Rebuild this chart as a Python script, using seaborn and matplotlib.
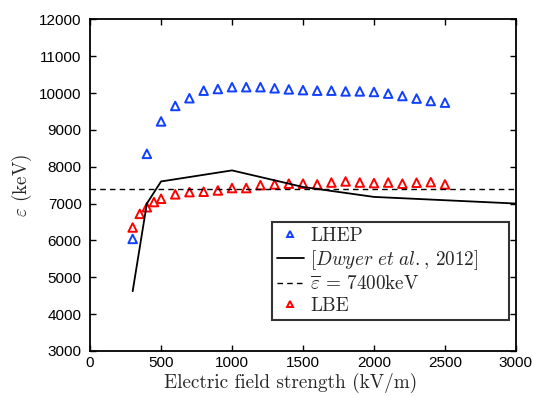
import matplotlib
matplotlib.use("Agg")
import matplotlib.pyplot as plt
from matplotlib.lines import Line2D
import seaborn as sns
import pandas as pd

# data
lhep_x = [300, 400, 500, 600, 700, 800, 900, 1000, 1100, 1200, 1300, 1400, 1500,
          1600, 1700, 1800, 1900, 2000, 2100, 2200, 2300, 2400, 2500]
lhep_y = [6040, 8350, 9230, 9650, 9860, 10065, 10110, 10160, 10160, 10160, 10130, 10100, 10080,
          10065, 10065, 10045, 10045, 10030, 9985, 9920, 9850, 9785, 9740]
lbe_x = [300, 350, 400, 450, 500, 600, 700, 800, 900, 1000, 1100, 1200, 1300, 1400, 1500,
         1600, 1700, 1800, 1900, 2000, 2100, 2200, 2300, 2400, 2500]
lbe_y = [6350, 6720, 6900, 7040, 7130, 7250, 7310, 7320, 7355, 7420, 7420, 7500, 7520, 7540, 7540,
         7520, 7570, 7600, 7570, 7555, 7570, 7540, 7565, 7580, 7520]
dwyer_x = [300, 400, 500, 1000, 1500, 2000, 3000]
dwyer_y = [4620, 7000, 7600, 7900, 7450, 7180, 7000]
mean_eps = 7400
xticks = [0, 500, 1000, 1500, 2000, 2500, 3000]
yticks = [3000, 4000, 5000, 6000, 7000, 8000, 9000, 10000, 11000, 12000]

blue = "#1040ff"
red = "#ff0000"

sns.set_theme(style="white")
plt.rcParams["mathtext.fontset"] = "cm"
plt.rcParams["axes.unicode_minus"] = False

fig = plt.figure(figsize=(5.33, 3.96), dpi=100)
ax = fig.add_axes([0.169, 0.114, 0.799, 0.837])

df_l = pd.DataFrame({"x": lhep_x, "y": lhep_y})
df_b = pd.DataFrame({"x": lbe_x, "y": lbe_y})
df_d = pd.DataFrame({"x": dwyer_x, "y": dwyer_y})

sns.lineplot(data=df_d, x="x", y="y", ax=ax, color="black", linewidth=1.3, sort=False)
ax.axhline(mean_eps, color="black", linestyle=(0, (4, 3)), linewidth=1.0)
sns.scatterplot(data=df_l, x="x", y="y", ax=ax, marker="^", s=38,
                facecolor="none", edgecolor=blue, linewidth=1.4)
sns.scatterplot(data=df_b, x="x", y="y", ax=ax, marker="^", s=38,
                facecolor="none", edgecolor=red, linewidth=1.4)

ax.set_xlim(0, 3000)
ax.set_ylim(3000, 12000)
ax.set_xticks(xticks)
ax.set_yticks(yticks)
ax.set_xticklabels([str(t) for t in xticks], fontfamily="Liberation Sans", fontsize=11)
ax.set_yticklabels([str(t) for t in yticks], fontfamily="Liberation Sans", fontsize=11)
ax.tick_params(direction="in", length=4, width=1, top=True, right=True,
               bottom=True, left=True, colors="black")
ax.tick_params(axis="y", pad=6)
ax.tick_params(axis="x", pad=4)
for s in ax.spines.values():
    s.set_color("black")
    s.set_linewidth(1.3)

ax.set_xlabel("Electric field strength (kV/m)", fontfamily="cmr10", fontsize=13.8, labelpad=2)
ax.xaxis.label.set_x(0.471)
ax.set_ylabel(r"$\varepsilon$ (keV)", fontfamily="cmr10", fontsize=13.8, labelpad=4)

handles = [
    Line2D([], [], linestyle="none", marker="^", markersize=5, markerfacecolor="none",
           markeredgecolor=blue, markeredgewidth=1.4),
    Line2D([], [], color="black", linewidth=1.3),
    Line2D([], [], color="black", linewidth=1.0, linestyle=(0, (4, 3))),
    Line2D([], [], linestyle="none", marker="^", markersize=5, markerfacecolor="none",
           markeredgecolor=red, markeredgewidth=1.4),
]
labels = ["LHEP", r"[$Dwyer\ et\ al.$, 2012]", r"$\overline{\varepsilon}$ = 7400keV", "LBE"]
leg = ax.legend(handles, labels, loc="lower left", bbox_to_anchor=(0.427, 0.094, 0.557, 0.2),
                mode="expand",
                prop={"family": "cmr10", "size": 13.8}, frameon=True, fancybox=False,
                handlelength=1.4, handletextpad=0.35, borderpad=0.25, labelspacing=0.17,
                borderaxespad=0)
leg.get_frame().set_edgecolor("black")
leg.get_frame().set_linewidth(1.5)

fig.savefig("out.png", dpi=100)
